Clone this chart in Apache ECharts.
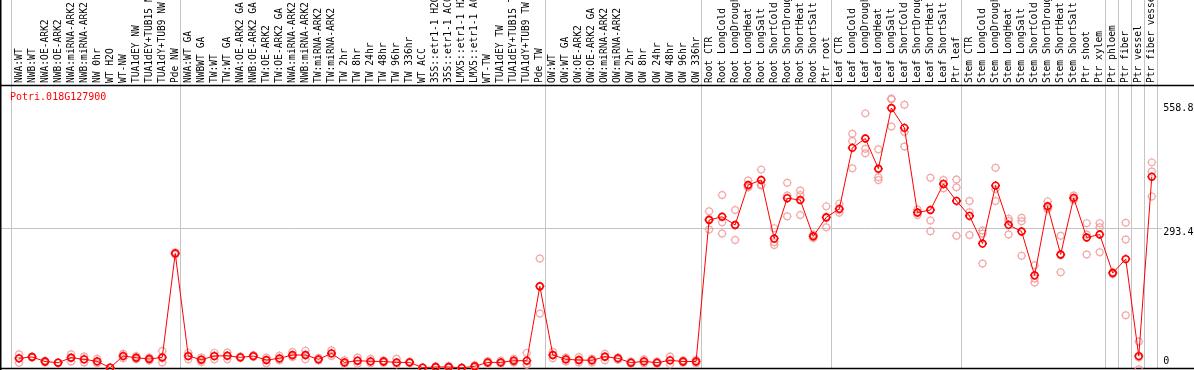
<!DOCTYPE html>
<html>
<head>
<meta charset="utf-8">
<script src="https://cdn.jsdelivr.net/npm/echarts@6/dist/echarts.min.js"></script>
<style>
  html, body { margin: 0; padding: 0; background: #fff; }
  #chart { width: 1194px; height: 370px; }
</style>
</head>
<body>
<div id="chart"></div>
<script>
// 表达量图
var categories = [
    'NWA:WT', 'NWB:WT', 'NWA:OE-ARK2', 'NWB:OE-ARK2', 'NWA:miRNA-ARK2', 'NWB:miRNA-ARK2',
    'NW 0hr', 'WT H2O', 'WT-NW', 'TUA1dEY NW', 'TUA1dEY+TUB15 NW', 'TUA1dY+TUB9 NW', 'Pde NW',
    'NWA:WT GA', 'NWBWT GA', 'TW:WT', 'TW:WT GA', 'NWA:OE-ARK2 GA', 'NWB:OE-ARK2 GA',
    'TW:OE-ARK2', 'TW:OE-ARK2 GA', 'NWA:miRNA-ARK2 GA', 'NWB:miRNA-ARK2 GA', 'TW:miRNA-ARK2',
    'TW:miRNA-ARK2', 'TW 2hr', 'TW 8hr', 'TW 24hr', 'TW 48hr', 'TW 96hr', 'TW 336hr', 'WT ACC',
    '35S::etr1-1 H2O', '35S::etr1-1 ACC', 'LMX5::etr1-1 H2O', 'LMX5::etr1-1 ACC', 'WT-TW',
    'TUA1dEY TW', 'TUA1dEY+TUB15 TW', 'TUA1dY+TUB9 TW', 'Pde TW',
    'OW:WT', 'OW:WT GA', 'OW:OE-ARK2', 'OW:OE-ARK2 GA', 'OW:miRNA-ARK2', 'OW:miRNA-ARK2',
    'OW 2hr', 'OW 8hr', 'OW 24hr', 'OW 48hr', 'OW 96hr', 'OW 336hr',
    'Root CTR', 'Root LongCold', 'Root LongDrought', 'Root LongHeat', 'Root LongSalt',
    'Root ShortCold', 'Root ShortDrought', 'Root ShortHeat', 'Root ShortSalt', 'Ptr root',
    'Leaf CTR', 'Leaf LongCold', 'Leaf LongDrought', 'Leaf LongHeat', 'Leaf LongSalt',
    'Leaf ShortCold', 'Leaf ShortDrought', 'Leaf ShortHeat', 'Leaf ShortSalt', 'Ptr leaf',
    'Stem CTR', 'Stem LongCold', 'Stem LongDrought', 'Stem LongHeat', 'Stem LongSalt',
    'Stem ShortCold', 'Stem ShortDrought', 'Stem ShortHeat', 'Stem ShortSalt', 'Ptr shoot',
    'Ptr xylem', 'Ptr phloem', 'Ptr fiber', 'Ptr vessel', 'Ptr fiber vessel'
];

var meanValues = [
    7, 10, 0, -2.6, 8.4, 4.8, 0.4, -13.6, 12, 8.4, 5.5, 9.2, 238.3,
    12, 4, 12, 12.8, 9.2, 12, 3.3, 7, 14.3, 14.3, 4.8, 18, -2, 1.8, 0.4, 0, -2, -2, -13.6,
    -12, -12, -14, -10.5, -2, -2, 1.8, 1.8, 166,
    14.3, 4.8, 3.3, 2.6, 10.6, 7, -2.6, 0.4, -2.6, 2.6, 0, 0,
    312, 319, 301, 389, 400, 271, 360, 356, 276, 318,
    336.5, 471, 491.5, 425, 558.8, 515, 328.4, 334, 391.4, 354,
    321, 260, 387.7, 301.3, 286.6, 190, 342.2, 236, 360.6, 273.4,
    280, 195, 225.8, 12, 407.4
];

var rep1 = [
    16, 11, 2, -2, 16, 11, 6, -13, 17, 12, 9, 23, 241,
    19, 9, 19, 20, 11, 14, 9, 13, 21, 24, 8, 25, 3, 9, 6, 3, 6, 0, -13,
    -11, -10, -13, -8, 1, 2, 6, 19, 227,
    21, 9, 10, 6, 17, 9, 0, 5, 0, 11, 3, 4,
    331, 367, 334, 399, 423, 294, 394, 377, 280, 342,
    348, 502, 547, 468, 580, 566, 335, 405, 400, 401,
    354, 289, 427, 315, 317, 212, 353, 277, 366, 305,
    305, 197, 306, 44, 439
];

var rep2 = [
    7, 10, 0, -3, 9, 5, 0, -14, 12, 8, 6, 7, 238,
    12, 4, 12, 13, 9, 12, 3, 5, 12, 14, 5, 17, -2, 1, 0, 0, -4, -2, -14,
    -12, -12, -14, -11, -2, -2, 1, -7, 165,
    14, 5, 3, 3, 11, 7, -3, 0, -3, 3, 0, 0,
    314, 307, 301, 385, 388, 263, 366, 367, 275, 316,
    334, 486, 469, 406, 578, 506, 328, 311, 392, 384,
    329, 282, 380, 310, 309, 183, 338, 234, 360, 280,
    296, 195, 269, 9, 419
];

var rep3 = [
    -3, 9, -2, -3, 0, -2, -4, -14, 7, 5, 2, -2, 236,
    5, -1, 5, 5, 8, 10, -4, 3, 10, 5, 2, 12, -5, -5, -4, -3, -6, -4, -14,
    -13, -14, -15, -13, -5, -5, -2, -6, 106,
    7, 0, -2, -2, 3, 4, -5, -4, -5, -6, -3, -4,
    291, 282, 268, 384, 390, 257, 320, 323, 272, 296,
    328, 426, 459, 400, 518, 474, 323, 287, 382, 277,
    279, 216, 354, 280, 233, 174, 336, 197, 356, 236,
    241, 193, 102, -17, 364
];

var yTicks = [0, 293.4, 558.8];
// 分组分隔线: 第k个类别之后
var groupEnds = [0, 13, 41, 53, 63, 73, 84, 85, 86, 87, 88];

var MARK = 'path://M4,0L4,1M4,7L4,8M0,4L1,4M7,4L8,4M1,4A3,3,0,1,1,7,4A3,3,0,1,1,1,4Z';
var FONT = 'DejaVu Sans Mono';

function repSeries(data) {
    return {
        type: 'scatter',
        data: data,
        symbol: MARK,
        symbolSize: 9,
        clip: false,
        silent: true,
        z: 2,
        itemStyle: {
            color: 'rgba(0,0,0,0)',
            borderColor: '#f09494',
            borderWidth: 1.2
        }
    };
}

var chartDom = document.getElementById('chart');
var chart = echarts.init(chartDom, null, { renderer: 'canvas' });

var option = {
    animation: false,
    backgroundColor: '#fff',
    title: {
        text: 'Potri.018G127900',
        left: 10,
        top: 92,
        padding: 0,
        textStyle: {
            color: '#ff0000',
            fontSize: 10,
            fontWeight: 'normal',
            fontFamily: FONT
        }
    },
    grid: {
        left: 12.5,
        right: 35.7,
        top: 85,
        bottom: 2,
        containLabel: false,
        outerBoundsMode: 'none'
    },
    xAxis: {
        type: 'category',
        position: 'top',
        data: categories,
        boundaryGap: true,
        axisLine: { show: false },
        axisTick: { show: false },
        splitLine: { show: false },
        axisLabel: {
            interval: 0,
            rotate: 90,
            margin: 2,
            color: '#000',
            fontSize: 9.6,
            fontFamily: FONT
        }
    },
    yAxis: {
        type: 'value',
        position: 'right',
        min: -14.3,
        max: 609.5,
        axisLine: { show: false },
        axisTick: { show: false },
        splitLine: { show: false },
        axisLabel: {
            customValues: yTicks,
            margin: 5,
            color: '#000',
            fontSize: 10,
            fontFamily: FONT,
            formatter: function (v) {
                if (v === yTicks[1]) {
                    return '{d|' + v + '}';
                }
                return String(v);
            },
            rich: {
                d: {
                    padding: [8, 0, 0, 0],
                    fontSize: 10,
                    fontFamily: FONT,
                    color: '#000'
                }
            }
        }
    },
    series: [
        repSeries(rep1),
        repSeries(rep2),
        repSeries(rep3),
        {
            type: 'line',
            data: meanValues,
            symbol: MARK,
            symbolSize: 9,
            showAllSymbol: true,
            clip: false,
            silent: true,
            z: 3,
            lineStyle: { color: '#ff0000', width: 1 },
            itemStyle: {
                color: 'rgba(0,0,0,0)',
                borderColor: '#ff0000',
                borderWidth: 1.6
            }
        }
    ]
};

chart.setOption(option, true);

// 分隔线和边框
var c0 = chart.convertToPixel({ xAxisIndex: 0 }, 0);
var c1 = chart.convertToPixel({ xAxisIndex: 0 }, 1);
var band = c1 - c0;
var yMid = Math.round(chart.convertToPixel({ yAxisIndex: 0 }, yTicks[1])) + 0.5;

var lines = [];
groupEnds.forEach(function (k) {
    var cx = k === 0 ? c0 - band : chart.convertToPixel({ xAxisIndex: 0 }, k - 1);
    var x = Math.round(cx + 5) + 0.5;
    lines.push({
        type: 'line',
        z: -1,
        silent: true,
        shape: { x1: x, y1: 0, x2: x, y2: 368 },
        style: { stroke: '#c4c4c4', lineWidth: 1 }
    });
});
lines.push({
    type: 'line',
    z: -1,
    silent: true,
    shape: { x1: 0, y1: yMid, x2: 1162, y2: yMid },
    style: { stroke: '#c4c4c4', lineWidth: 1 }
});
lines.push({
    type: 'line', silent: true,
    shape: { x1: 0, y1: 85.5, x2: 1194, y2: 85.5 },
    style: { stroke: '#000', lineWidth: 1.5 }
});
lines.push({
    type: 'line', silent: true,
    shape: { x1: 0, y1: 368.5, x2: 1194, y2: 368.5 },
    style: { stroke: '#000', lineWidth: 1.5 }
});
lines.push({
    type: 'line', silent: true,
    shape: { x1: 0.75, y1: 0, x2: 0.75, y2: 370 },
    style: { stroke: '#000', lineWidth: 1.5 }
});

chart.setOption({ graphic: lines });
</script>
</body>
</html>
